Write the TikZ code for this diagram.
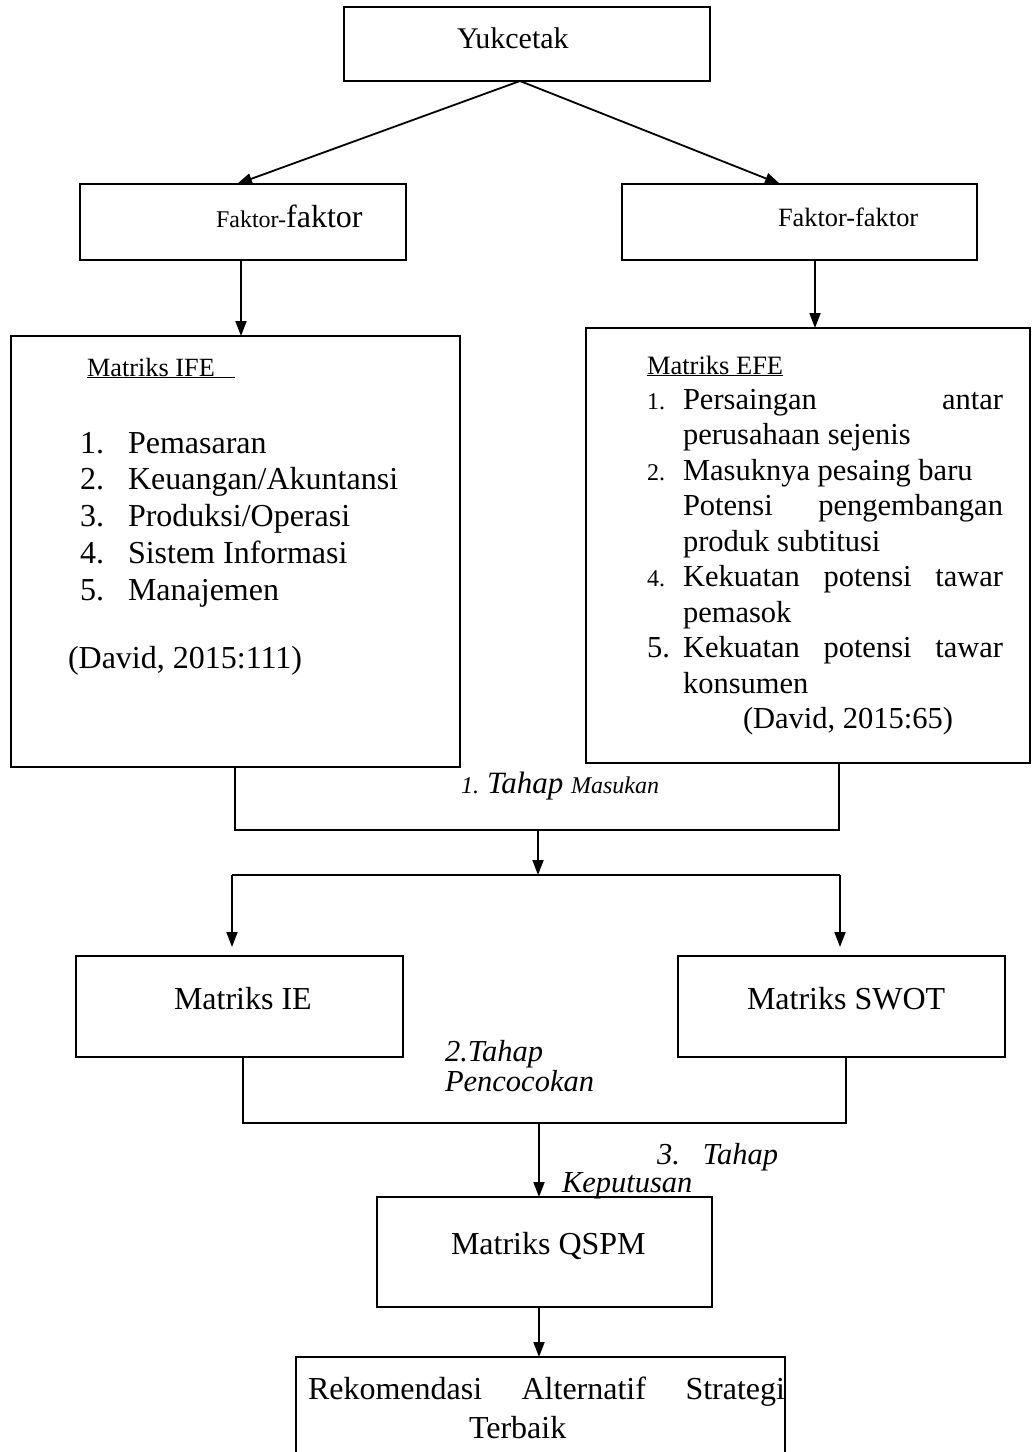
\documentclass[tikz,border=0pt]{standalone}
\usepackage{fontspec}
\setmainfont{Liberation Serif}
\usetikzlibrary{arrows.meta,calc}
\newcommand\fs[1]{\fontsize{#1}{#1}\selectfont}
\begin{document}
\begin{tikzpicture}[x=1pt,y=-1pt,
  box/.style={draw,line width=2pt,rectangle,inner sep=0pt,outer sep=0pt},
  arr/.style={line width=1.8pt,-{Triangle[length=15pt,width=11pt]}},
  ln/.style={line width=2.2pt},
  txt/.style={anchor=base west,inner sep=0pt,outer sep=0pt}]
\useasboundingbox (0,0) rectangle (1032,1452);
\clip (0,0) rectangle (1032,1452);
% boxes
\node[box,minimum width=366pt,minimum height=74pt] (yuk) at (527,44) {};
\node[box,minimum width=326pt,minimum height=76pt] (fl) at (243,222) {};
\node[box,minimum width=355pt,minimum height=76pt] (fr) at (799.5,222) {};
\node[box,minimum width=449pt,minimum height=431pt] (ife) at (235.5,551.5) {};
\node[box,minimum width=444pt,minimum height=435pt] (efe) at (808,545.5) {};
\node[box,minimum width=327pt,minimum height=101pt] (ie) at (239.5,1006.5) {};
\node[box,minimum width=327pt,minimum height=101pt] (swot) at (841.5,1006.5) {};
\node[box,minimum width=335pt,minimum height=110pt] (qspm) at (544.5,1252) {};
\node[box,minimum width=489pt,minimum height=123pt] (rek) at (540.5,1418.5) {};
% texts
\node[txt] (tyuk) at (457,48) {\fs{30}Yukcetak};
\node[txt] (tfl) at (216,227) {\fs{24}Faktor-\fs{32}faktor};
\node[txt] (tfr) at (778,226) {\fs{26.4}Faktor-faktor};
% IFE
\node[txt] (ifeh) at (87,376) {\fs{26.3}\underline{Matriks IFE\hspace*{20pt}}};
\node[txt] (ifen1) at (80,453) {\fs{32}1.};
\node[txt] (ifet1) at (128,453) {\fs{32}Pemasaran};
\node[txt] (ifen2) at (80,489.8) {\fs{32}2.};
\node[txt] (ifet2) at (128,489.8) {\fs{32}Keuangan/Akuntansi};
\node[txt] (ifen3) at (80,526.6) {\fs{32}3.};
\node[txt] (ifet3) at (128,526.6) {\fs{32}Produksi/Operasi};
\node[txt] (ifen4) at (80,563.4) {\fs{32}4.};
\node[txt] (ifet4) at (128,563.4) {\fs{32}Sistem Informasi};
\node[txt] (ifen5) at (80,600.2) {\fs{32}5.};
\node[txt] (ifet5) at (128,600.2) {\fs{32}Manajemen};
\node[txt] (ifesrc) at (68,668) {\fs{32}(David, 2015:111)};
% EFE
\node[txt] (efeh) at (647,374) {\fs{26.5}\underline{Matriks EFE}};
\node[txt] (efen1) at (647,409) {\fs{24}1.};
\node[txt] (efe1) at (683,409) {\fs{30.5}\hbox to 320pt{Persaingan\hfill antar}};
\node[txt] (efe2) at (683,444.5) {\fs{30.5}perusahaan sejenis};
\node[txt] (efen2) at (647,480) {\fs{24}2.};
\node[txt] (efe3) at (683,480) {\fs{30.5}Masuknya pesaing baru};
\node[txt] (efe4) at (683,515.5) {\fs{30.5}\hbox to 320pt{Potensi\hfill pengembangan}};
\node[txt] (efe5) at (683,551) {\fs{30.5}produk subtitusi};
\node[txt] (efen4) at (647,586.5) {\fs{24}4.};
\node[txt] (efe6) at (683,586.5) {\fs{30.5}\hbox to 320pt{Kekuatan\hfill potensi\hfill tawar}};
\node[txt] (efe7) at (683,622) {\fs{30.5}pemasok};
\node[txt] (efen5) at (647,657.5) {\fs{30.5}5.};
\node[txt] (efe8) at (683,657.5) {\fs{30.5}\hbox to 320pt{Kekuatan\hfill potensi\hfill tawar}};
\node[txt] (efe9) at (683,693) {\fs{30.5}konsumen};
\node[txt] (efesrc) at (743,728.5) {\fs{30.5}(David, 2015:65)};
% stage labels
\node[txt] (st1) at (461,793) {\itshape\fs{24}1. \fs{31}Tahap \fs{24}Masukan};
\node[txt] (st2a) at (445,1061) {\itshape\fs{30.5}2.Tahap};
\node[txt] (st2b) at (445,1091) {\itshape\fs{30.5}Pencocokan};
\node[txt] (st3a) at (657,1164) {\itshape\fs{30.5}3.\hspace{23pt}Tahap};
\node[txt] (st3b) at (562,1192) {\itshape\fs{30.5}Keputusan};
% bottom texts
\node[txt] (tie) at (174,1009) {\fs{32}Matriks IE};
\node[txt] (tswot) at (747,1009) {\fs{32}Matriks SWOT};
\node[txt] (tqspm) at (451,1254) {\fs{32}Matriks QSPM};
\node[txt] (trek1) at (308,1399) {\fs{32}\hbox to 477pt{Rekomendasi\hfill Alternatif\hfill Strategi}};
\node[txt] (trek2) at (469,1438) {\fs{32}Terbaik};
% coordinates
\coordinate (apex) at (520,81);
\coordinate (b1l) at (235,830);
\coordinate (b1r) at (839,830);
\coordinate (b1m) at (538,830);
\coordinate (d1m) at (538,875);
\coordinate (dl) at (232,875);
\coordinate (dr) at (840,875);
\coordinate (b2l) at (243,1123);
\coordinate (b2r) at (846,1123);
\coordinate (b2m) at (539,1123);
% connectors
\draw[arr] (apex) -- (237,184) coordinate (flin);
\draw[arr] (apex) -- (780,184) coordinate (frin);
\draw[arr] (fl.south -| 241,0) -- (ife.north -| 241,0);
\draw[arr] (fr.south -| 815,0) -- (efe.north -| 815,0);
\draw[ln] (ife.south -| b1l) -- (b1l) -- (b1r) -- (efe.south -| b1r);
\draw[arr] (b1m) -- (d1m);
\draw[ln] (dl) -- (dr);
\draw[arr] (dl) -- ($(ie.north -| dl)+(0,-9)$);
\draw[arr] (dr) -- ($(swot.north -| dr)+(0,-9)$);
\draw[ln] (ie.south -| b2l) -- (b2l) -- (b2r) -- (swot.south -| b2r);
\draw[arr] (b2m) -- (qspm.north -| b2m);
\draw[arr] (qspm.south -| b2m) -- (rek.north -| b2m);
\end{tikzpicture}
\end{document}
